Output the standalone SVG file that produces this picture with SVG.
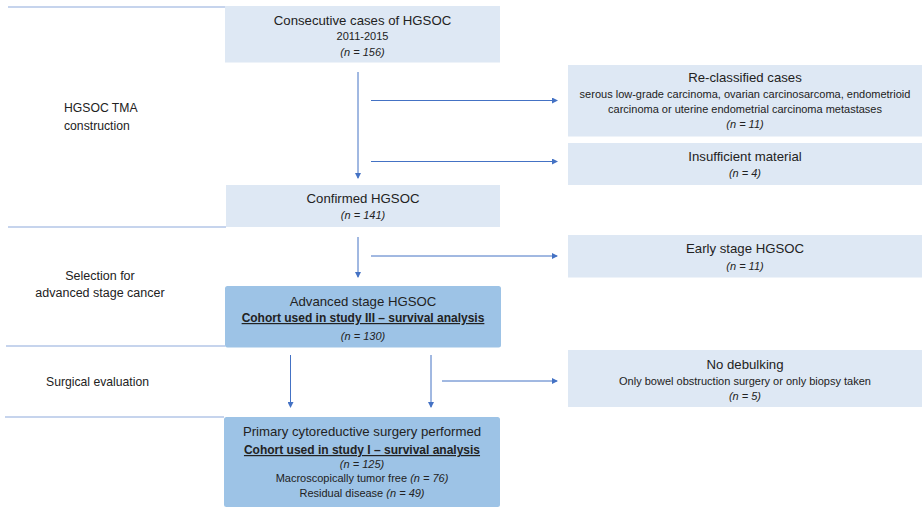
<svg xmlns="http://www.w3.org/2000/svg" width="923" height="508" viewBox="0 0 923 508">
<defs>
<marker id="ah" markerWidth="6" markerHeight="6" refX="5" refY="3" orient="auto" markerUnits="userSpaceOnUse">
<path d="M0,0 L6,3 L0,6 Z" fill="#4472c4"/>
</marker>
<style>
.light{fill:#dee8f4}
.dark{fill:#9dc3e6}
.sep{stroke:#8eaadb;stroke-width:1.2;fill:none}
.con{stroke:#4472c4;stroke-width:1;fill:none;marker-end:url(#ah)}
text{font-family:"Liberation Sans",Arial,sans-serif;fill:#222;text-anchor:middle}
.t{font-size:13.2px}
.s{font-size:11px}
.i{font-size:11px;font-style:italic}
.b{font-size:12px;font-weight:bold;text-decoration:underline}
.l{font-size:12.2px;text-anchor:start}
.lc{font-size:12.5px}
</style>
</defs>
<g id="separators">
<line class="sep" x1="8" y1="7" x2="225" y2="7"/>
<line class="sep" x1="8" y1="227" x2="226" y2="227"/>
<line class="sep" x1="6" y1="346" x2="225" y2="346"/>
<line class="sep" x1="5" y1="417" x2="224" y2="417"/>
</g>
<g id="labels">
<text class="l" x="64" y="112">HGSOC TMA</text>
<text class="l" x="64" y="130">construction</text>
<text class="lc" x="100" y="280">Selection for</text>
<text class="lc" x="100" y="297">advanced stage cancer</text>
<text class="l" x="46" y="386">Surgical evaluation</text>
</g>
<g id="connectors">
<line class="con" x1="358" y1="72" x2="358" y2="178"/>
<line class="con" x1="371" y1="100.5" x2="557" y2="100.5"/>
<line class="con" x1="371" y1="161.5" x2="557" y2="161.5"/>
<line class="con" x1="358" y1="237" x2="358" y2="277"/>
<line class="con" x1="371" y1="256" x2="557" y2="256"/>
<line class="con" x1="290.5" y1="355" x2="290.5" y2="407"/>
<line class="con" x1="431" y1="355" x2="431" y2="407"/>
<line class="con" x1="442" y1="381" x2="557" y2="381"/>
</g>
<g id="n1">
<rect class="light" x="225" y="6" width="275" height="56.5"/>
<text class="t" x="362.5" y="25">Consecutive cases of HGSOC</text>
<text class="s" x="362.5" y="40">2011-2015</text>
<text class="i" x="362.5" y="56">(n = 156)</text>
</g>
<g id="n2">
<rect class="light" x="568" y="65" width="354" height="71.5"/>
<text class="t" x="745" y="82">Re-classified cases</text>
<text class="s" x="745" y="98">serous low-grade carcinoma, ovarian carcinosarcoma,  endometrioid</text>
<text class="s" x="745" y="113">carcinoma or uterine endometrial carcinoma metastases</text>
<text class="i" x="745" y="128">(n = 11)</text>
</g>
<g id="n3">
<rect class="light" x="568" y="143" width="354" height="42"/>
<text class="t" x="745" y="161">Insufficient material</text>
<text class="i" x="745" y="177">(n = 4)</text>
</g>
<g id="n4">
<rect class="light" x="226" y="185" width="274" height="42"/>
<text class="t" x="363" y="203">Confirmed HGSOC</text>
<text class="i" x="363" y="219">(n = 141)</text>
</g>
<g id="n5">
<rect class="light" x="568" y="235" width="354" height="42.5"/>
<text class="t" x="745" y="253">Early stage HGSOC</text>
<text class="i" x="745" y="270">(n = 11)</text>
</g>
<g id="n6">
<rect class="dark" x="225" y="286" width="276" height="61.5" rx="2.5"/>
<text class="t" x="363" y="306">Advanced stage HGSOC</text>
<text class="b" x="363" y="322">Cohort used in study III – survival analysis</text>
<text class="i" x="363" y="340">(n = 130)</text>
</g>
<g id="n7">
<rect class="light" x="568" y="350" width="354" height="57"/>
<text class="t" x="745" y="369">No debulking</text>
<text class="s" x="745" y="385">Only bowel obstruction surgery or only biopsy taken</text>
<text class="i" x="745" y="400">(n = 5)</text>
</g>
<g id="n8">
<rect class="dark" x="224" y="417" width="276" height="90" rx="2.5"/>
<text class="t" x="362" y="436">Primary cytoreductive surgery performed</text>
<text class="b" x="362" y="454">Cohort used in study I – survival analysis</text>
<text class="i" x="362" y="468">(n = 125)</text>
<text class="s" x="362" y="482">Macroscopically tumor free <tspan font-style="italic">(n = 76)</tspan></text>
<text class="s" x="362" y="497">Residual disease <tspan font-style="italic">(n = 49)</tspan></text>
</g>
</svg>
